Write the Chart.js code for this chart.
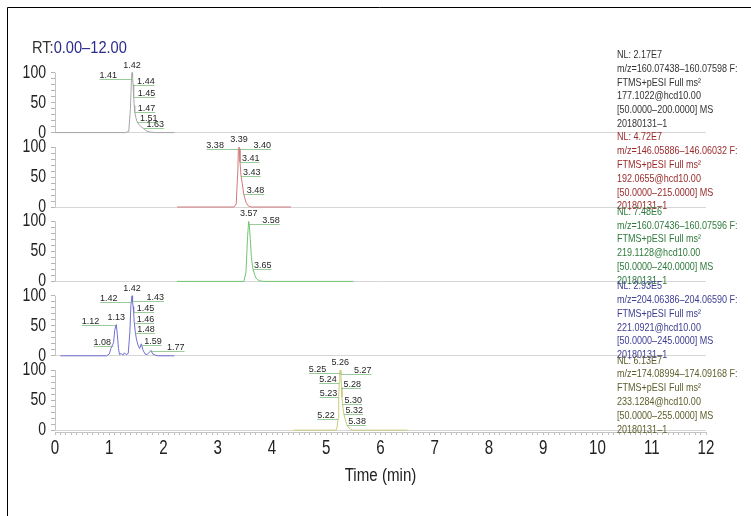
<!DOCTYPE html>
<html>
<head>
<meta charset="utf-8">
<script src="https://cdn.jsdelivr.net/npm/chart.js@4.4.1/dist/chart.umd.min.js"></script>
<style>
  html, body { margin: 0; padding: 0; background: #fff; }
  #wrap { position: relative; width: 751px; height: 516px; }
</style>
</head>
<body>
<div id="wrap"><canvas id="rtChart" width="751" height="516"></canvas></div>
<script>
// axis ticks
const timeTicks = [0, 1, 2, 3, 4, 5, 6, 7, 8, 9, 10, 11, 12];
const abundTicks = [0, 50, 100];

// panel 1 trace (time in min, relative abundance)
const p1Time = [0.00, 1.30, 1.36, 1.39, 1.41, 1.42, 1.43, 1.44, 1.45, 1.46, 1.47, 1.49, 1.51, 1.55, 1.60, 1.63, 1.68, 1.75, 1.85, 2.20];
const p1Abund = [0, 0, 2, 40, 90, 100, 92, 80, 60, 45, 35, 25, 19, 13, 9, 7, 3, 1, 0, 0];
const p1Labels = ["1.41", "1.42", "1.44", "1.45", "1.47", "1.51", "1.63"];
const p1LabelLevel = [90, 100, 80, 60, 35, 18, 7];

// panel 2
const p2Time = [2.25, 3.30, 3.34, 3.37, 3.38, 3.39, 3.40, 3.41, 3.42, 3.43, 3.45, 3.48, 3.52, 3.56, 3.62, 4.35];
const p2Abund = [0, 0, 5, 60, 97, 100, 97, 75, 62, 51, 40, 21, 8, 2, 0, 0];
const p2Labels = ["3.38", "3.39", "3.40", "3.41", "3.43", "3.48"];
const p2LabelLevel = [97, 100, 97, 75, 51, 21];

// panel 3
const p3Time = [2.25, 3.48, 3.52, 3.55, 3.57, 3.58, 3.60, 3.62, 3.65, 3.70, 3.76, 3.85, 5.50];
const p3Abund = [0, 0, 15, 75, 100, 96, 70, 40, 20, 6, 1, 0, 0];
const p3Labels = ["3.57", "3.58", "3.65"];
const p3LabelLevel = [100, 96, 20];

// panel 4
const p4Time = [0.10, 0.95, 1.00, 1.03, 1.06, 1.08, 1.10, 1.12, 1.13, 1.15, 1.17, 1.19, 1.22, 1.25, 1.28, 1.31, 1.35, 1.38, 1.40, 1.42, 1.43, 1.44, 1.45, 1.46, 1.48, 1.50, 1.53, 1.56, 1.59, 1.62, 1.66, 1.70, 1.74, 1.77, 1.80, 1.85, 1.90, 2.20];
const p4Abund = [0, 0, 3, 12, 18, 22, 42, 50, 52, 35, 12, 2, 4, 1, 5, 2, 4, 40, 85, 100, 90, 82, 72, 56, 40, 28, 18, 12, 20, 10, 3, 2, 6, 9, 3, 1, 0, 0];
const p4Labels = ["1.08", "1.12", "1.13", "1.42", "1.42", "1.43", "1.45", "1.46", "1.48", "1.59", "1.77"];
const p4LabelLevel = [17, 52, 52, 90, 100, 92, 73, 55, 38, 18, 8];

// panel 5
const p5Time = [4.40, 5.18, 5.20, 5.22, 5.23, 5.24, 5.25, 5.26, 5.27, 5.28, 5.29, 5.30, 5.32, 5.35, 5.38, 5.42, 5.48, 6.50];
const p5Abund = [0, 0, 5, 20, 56, 80, 97, 100, 93, 72, 55, 44, 29, 18, 9, 3, 0, 0];
const p5Labels = ["5.25", "5.26", "5.27", "5.24", "5.28", "5.23", "5.30", "5.32", "5.22", "5.38"];
const p5LabelLevel = [96, 100, 93, 78, 70, 56, 44, 27, 19, 8];

const nlText = [
  ["NL: 2.17E7", "m/z=160.07438\u2013160.07598 F:", "FTMS+pESI Full ms\u00b2", "177.1022@hcd10.00", "[50.0000\u2013200.0000] MS", "20180131\u20131"],
  ["NL: 4.72E7", "m/z=146.05886\u2013146.06032 F:", "FTMS+pESI Full ms\u00b2", "192.0655@hcd10.00", "[50.0000\u2013215.0000] MS", "20180131\u20131"],
  ["NL: 7.48E6", "m/z=160.07436\u2013160.07596 F:", "FTMS+pESI Full ms\u00b2", "219.1128@hcd10.00", "[50.0000\u2013240.0000] MS", "20180131\u20131"],
  ["NL: 2.93E5", "m/z=204.06386\u2013204.06590 F:", "FTMS+pESI Full ms\u00b2", "221.0921@hcd10.00", "[50.0000\u2013245.0000] MS", "20180131\u20131"],
  ["NL: 6.13E7", "m/z=174.08994\u2013174.09168 F:", "FTMS+pESI Full ms\u00b2", "233.1284@hcd10.00", "[50.0000\u2013255.0000] MS", "20180131\u20131"]
];

// label placement: text left edge offset from the peak point, null = centred above it
const p1LabelDx = [-32, null, 4, 4, 3, 3, 3];
const p2LabelDx = [-32, null, 14, 2, 2, 3];
const p3LabelDx = [null, 13, 1];
const p4LabelDx = [-20, -34, null, -32, null, 14, 3, 2.5, 2, 3, 16];
const p5LabelDx = [-31, null, 13, -20, 2, -19, 2, 2, -21, 1.5];

const SANS = '"Liberation Sans", Arial, sans-serif';
const traceColors = ["#a6a6a6", "#d27a7a", "#74c474", "#7070d2", "#c9c979"];
const textColors = ["#333333", "#9a2b2b", "#2f7a3c", "#3d3d92", "#5e5e2c"];
const nlOffset = [-5, 3, 3, 3, 3];

const panels = [
  { time: p1Time, abund: p1Abund, labels: p1Labels, levels: p1LabelLevel, dx: p1LabelDx },
  { time: p2Time, abund: p2Abund, labels: p2Labels, levels: p2LabelLevel, dx: p2LabelDx },
  { time: p3Time, abund: p3Abund, labels: p3Labels, levels: p3LabelLevel, dx: p3LabelDx },
  { time: p4Time, abund: p4Abund, labels: p4Labels, levels: p4LabelLevel, dx: p4LabelDx },
  { time: p5Time, abund: p5Abund, labels: p5Labels, levels: p5LabelLevel, dx: p5LabelDx }
];

const datasets = panels.map((p, i) => ({
  label: "panel " + (i + 1),
  data: p.time.map((t, k) => ({ x: t, y: p.abund[k] })),
  borderColor: traceColors[i],
  borderWidth: 1,
  pointRadius: 0,
  tension: 0,
  fill: false,
  xAxisID: "x",
  yAxisID: "y" + (i + 1)
}));

const minorTime = [];
for (let v = 0; v <= 120; v++) minorTime.push(v / 10);
const minorAbund = [0, 10, 20, 30, 40, 50, 60, 70, 80, 90, 100];

const scales = {
  x: {
    type: "linear",
    position: "bottom",
    min: 0,
    max: 12,
    afterBuildTicks: s => { s.ticks = minorTime.map(v => ({ value: v })); },
    afterFit: s => { s.height = 84; },
    ticks: { display: false, autoSkip: false },
    grid: { drawOnChartArea: false, tickLength: 3, tickColor: "#bdbdbd" },
    border: { color: "#c4c4c4" }
  }
};

// stacked panels: the last one added ends up on top
for (let i = 4; i >= 0; i--) {
  scales["y" + (i + 1)] = {
    type: "linear",
    position: "left",
    stack: "panels",
    stackWeight: 1,
    min: -3,
    max: 121,
    afterBuildTicks: s => { s.ticks = minorAbund.map(v => ({ value: v })); },
    afterFit: s => { s.width = 45; },
    ticks: { display: false, autoSkip: false },
    grid: {
      color: c => (c.tick && c.tick.value === 0) ? "#d6d6d6" : "rgba(0,0,0,0)",
      tickColor: "#b4b4b4",
      tickLength: 4
    },
    border: { display: false }
  };
}

// condensed text: Arial metrics squeezed horizontally
function narrowText(ctx, text, x, y, size, sx, align, color) {
  ctx.save();
  ctx.font = size + "px " + SANS;
  ctx.fillStyle = color;
  ctx.textBaseline = "middle";
  ctx.textAlign = "left";
  const w = ctx.measureText(text).width * sx;
  const x0 = align === "center" ? x - w / 2 : (align === "right" ? x - w : x);
  ctx.translate(x0, y);
  ctx.scale(sx, 1);
  ctx.fillText(text, 0, 0);
  ctx.restore();
  return w;
}

const decorations = {
  id: "decorations",
  afterDraw(chart) {
    const ctx = chart.ctx;
    const xs = chart.scales.x;
    ctx.save();

    // frame
    ctx.strokeStyle = "#000";
    ctx.lineWidth = 1;
    ctx.beginPath();
    ctx.moveTo(7.5, 516);
    ctx.lineTo(7.5, 7.5);
    ctx.lineTo(751, 7.5);
    ctx.stroke();

    // RT range
    const w = narrowText(ctx, "RT:", 32, 48, 17, 0.86, "left", "#333");
    narrowText(ctx, "0.00\u201312.00", 32 + w, 48, 17, 0.86, "left", "#2b2b8c");

    // axis tick labels and the short y axis lines (0..100 only)
    timeTicks.forEach(t => narrowText(ctx, String(t), xs.getPixelForValue(t), 448, 21, 0.72, "center", "#222"));
    const axisX = Math.round(chart.chartArea.left) + 0.5;
    panels.forEach((p, i) => {
      const ys = chart.scales["y" + (i + 1)];
      abundTicks.forEach(v => narrowText(ctx, String(v), 46, ys.getPixelForValue(v), 18, 0.78, "right", "#222"));
      ctx.strokeStyle = "#c4c4c4";
      ctx.beginPath();
      ctx.moveTo(axisX, ys.getPixelForValue(0));
      ctx.lineTo(axisX, ys.getPixelForValue(100));
      ctx.stroke();
    });

    // x title
    narrowText(ctx, "Time (min)", (chart.chartArea.left + chart.chartArea.right) / 2, 476, 18, 0.84, "center", "#222");

    // peak labels
    ctx.font = "9px " + SANS;
    ctx.textBaseline = "alphabetic";
    panels.forEach((p, i) => {
      const ys = chart.scales["y" + (i + 1)];
      p.labels.forEach((name, k) => {
        const px = xs.getPixelForValue(parseFloat(name));
        const py = ys.getPixelForValue(p.levels[k]);
        ctx.fillStyle = "#1e1e1e";
        if (p.dx[k] === null) {
          ctx.textAlign = "center";
          ctx.fillText(name, px, py - 5);
          return;
        }
        const tw = ctx.measureText(name).width;
        const left = px + p.dx[k];
        ctx.textAlign = "left";
        ctx.fillText(name, left, py - 1);
        ctx.strokeStyle = "rgba(120,185,120,0.75)";
        ctx.beginPath();
        ctx.moveTo(Math.min(px, left), Math.round(py) + 0.5);
        ctx.lineTo(Math.max(px, left + tw), Math.round(py) + 0.5);
        ctx.stroke();
      });
    });

    // NL blocks
    nlText.forEach((lines, i) => {
      const top = chart.scales["y" + (i + 1)].top + nlOffset[i];
      lines.forEach((line, k) => narrowText(ctx, line, 617, top + k * 13.8, 11, 0.82, "left", textColors[i]));
    });
    ctx.restore();
  }
};

new Chart(document.getElementById("rtChart"), {
  type: "line",
  data: { datasets: datasets },
  options: {
    responsive: false,
    animation: false,
    devicePixelRatio: 1,
    layout: { padding: { left: 10, right: 45, top: 60, bottom: 0 } },
    plugins: { legend: { display: false }, tooltip: { enabled: false } },
    scales: scales
  },
  plugins: [decorations]
});
</script>
</body>
</html>
